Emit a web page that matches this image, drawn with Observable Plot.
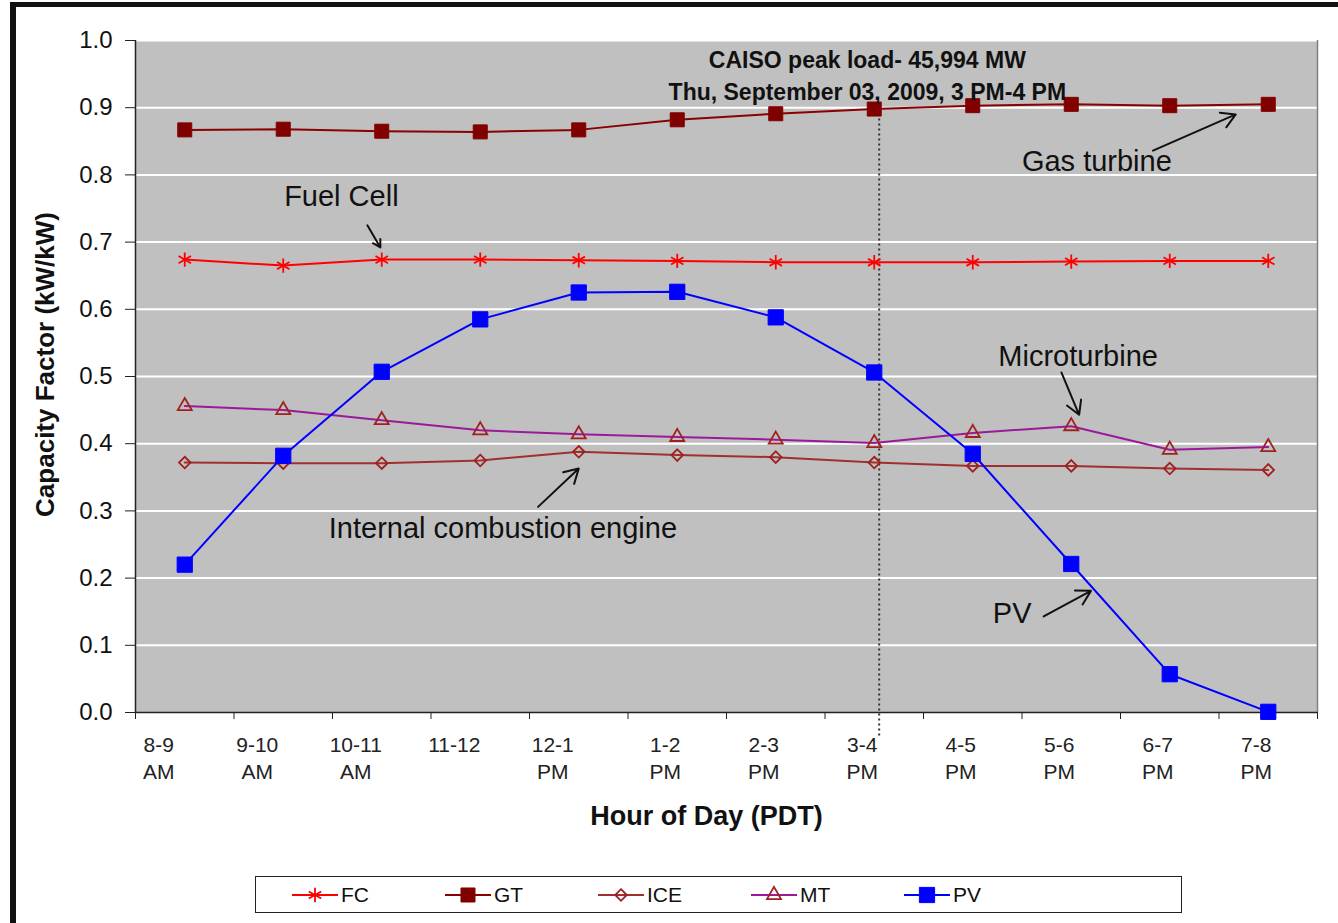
<!DOCTYPE html>
<html><head><meta charset="utf-8">
<script src="https://cdn.jsdelivr.net/npm/d3@7"></script>
<script src="https://cdn.jsdelivr.net/npm/@observablehq/plot@0.6"></script>
<style>
body{margin:0;background:#fff;font-family:"Liberation Sans",Arial,sans-serif;}
#wrap{position:relative;width:1338px;height:923px;overflow:hidden;}
#border{position:absolute;left:10px;top:2px;width:1400px;height:1000px;border-top:5px solid #111;border-left:6px solid #111;pointer-events:none;}
#legend{margin-left:255px;margin-top:16px;width:927px;height:37px;border:1.5px solid #222;box-sizing:border-box;display:flex;align-items:center;padding-left:36px;}
.item{display:flex;align-items:center;width:153px;font-size:21px;color:#111;}
.item svg{margin-right:3px;}
</style></head>
<body><div id="wrap"><div id="chart"></div><div id="legend"></div><div id="border"></div></div>
<script>
const hours = ["8-9\nAM","9-10\nAM","10-11\nAM","11-12","12-1\nPM","1-2\nPM","2-3\nPM","3-4\nPM","4-5\nPM","5-6\nPM","6-7\nPM","7-8\nPM"];
const FC  = [0.674,0.665,0.674,0.674,0.673,0.672,0.670,0.670,0.670,0.671,0.672,0.672];
const GT  = [0.867,0.868,0.865,0.864,0.867,0.882,0.891,0.898,0.903,0.905,0.903,0.905];
const ICE = [0.372,0.371,0.371,0.375,0.388,0.383,0.380,0.372,0.367,0.367,0.363,0.361];
const MT  = [0.456,0.450,0.435,0.420,0.414,0.410,0.406,0.401,0.416,0.426,0.391,0.395];
const PV  = [0.220,0.382,0.507,0.585,0.625,0.626,0.588,0.506,0.385,0.221,0.057,0.001];
const yTicks = [0,0.1,0.2,0.3,0.4,0.5,0.6,0.7,0.8,0.9,1.0];
const seriesNames = ["FC","GT","ICE","MT","PV"];
const seriesValues = {FC, GT, ICE, MT, PV};
const lineColors = {FC:"#ff0000", GT:"#8b0000", ICE:"#a03030", MT:"#9a1a9a", PV:"#0000ff"};
const markColors = {FC:"#ff0000", GT:"#800000", ICE:"#a02020", MT:"#a02020", PV:"#0000ff"};
const symbols = {FC:"asterisk", GT:"square", ICE:"diamond2", MT:"triangle", PV:"square"};
const symbolR = {FC:6.8, GT:7.9, ICE:5.2, MT:5.2, PV:8.6};
const filled = {FC:false, GT:true, ICE:false, MT:false, PV:true};

const peakHour = [7.05];
const peakText = [
  {text:"CAISO peak load- 45,994 MW", x:6.93, y:0.970},
  {text:"Thu, September 03, 2009, 3 PM-4 PM", x:6.93, y:0.923}
];
const notes = [
  {text:"Fuel Cell", x:1.59, y:0.768},
  {text:"Gas turbine", x:9.26, y:0.820},
  {text:"Microturbine", x:9.07, y:0.530},
  {text:"Internal combustion engine", x:3.23, y:0.274},
  {text:"PV", x:8.40, y:0.147}
];
const arrows = [
  {x1:1.854, y1:0.725, x2:1.986, y2:0.692},
  {x1:9.83, y1:0.836, x2:10.67, y2:0.890},
  {x1:8.90, y1:0.506, x2:9.08, y2:0.443},
  {x1:3.587, y1:0.306, x2:4.00, y2:0.363},
  {x1:8.72, y1:0.143, x2:9.20, y2:0.181}
];

const idx = hours.map((_, i) => i);
const bounds = d3.range(hours.length + 1).map(i => i - 0.5);
const xDomain = [-0.5, hours.length - 0.5];

const labelStyle = {tickSize:0, tickPadding:20, fontSize:21, lineHeight:1.3, label:null, fill:"#222"};
const marks = [
  Plot.frame({fill:"#c0c0c0", stroke:"none"}),
  Plot.ruleY(yTicks.slice(1), {stroke:"#ffffff", strokeWidth:2}),
  Plot.ruleX([xDomain[1]], {stroke:"#808080", strokeWidth:1.5}),
  Plot.ruleX(peakHour, {y1:-0.035, y2:0.905, stroke:"#333", strokeWidth:2, strokeDasharray:"2,3", clip:false}),
  Plot.ruleX([xDomain[0]], {stroke:"#222", strokeWidth:1.5}),
  Plot.ruleY([0], {stroke:"#222", strokeWidth:1.5}),
  Plot.axisY({ticks:yTicks, tickFormat:d3.format(".1f"), tickSize:10, tickPadding:13, fontSize:24, label:null, stroke:"#222", fill:"#111"}),
  Plot.axisX({ticks:bounds, tickFormat:() => "", tickSize:7, label:null, stroke:"#222"}),
  Plot.axisX({...labelStyle, ticks:idx.slice(0, 5), tickFormat:i => hours[i], dx:-26}),
  Plot.axisX({...labelStyle, ticks:idx.slice(5), tickFormat:i => hours[i], dx:-12})
];
for (const s of seriesNames) {
  const data = seriesValues[s].map((v, i) => ({i, v}));
  marks.push(Plot.line(data, {x:"i", y:"v", stroke:lineColors[s], strokeWidth:2}));
  marks.push(Plot.dot(data, {x:"i", y:"v", symbol:symbols[s], r:symbolR[s],
    fill: filled[s] ? markColors[s] : "none", stroke: markColors[s], strokeWidth: filled[s] ? 1 : 1.8}));
}
marks.push(
  Plot.text(peakText, {x:"x", y:"y", text:"text", fontSize:23, fontWeight:"bold", fill:"#111"}),
  Plot.text(notes, {x:"x", y:"y", text:"text", fontSize:29, fill:"#111"}),
  Plot.arrow(arrows, {x1:"x1", y1:"y1", x2:"x2", y2:"y2", stroke:"#111", strokeWidth:2, headLength:12}),
  Plot.text(["Capacity Factor (kW/kW)"], {frameAnchor:"left", textAnchor:"middle", rotate:-90, dx:-90, dy:-12, fontSize:26, fontWeight:"bold", fill:"#111", lineAnchor:"middle"}),
  Plot.text(["Hour of Day (PDT)"], {frameAnchor:"bottom", textAnchor:"middle", dx:-20, dy:104, fontSize:27, fontWeight:"bold", fill:"#111", lineAnchor:"middle"})
);

const chart = Plot.plot({
  width:1338, height:860,
  marginLeft:135, marginRight:21, marginTop:40, marginBottom:148,
  style:{fontFamily:"'Liberation Sans', Arial, sans-serif", background:"transparent", overflow:"visible"},
  x:{type:"linear", domain:xDomain},
  y:{domain:[0,1]},
  marks
});
document.getElementById("chart").appendChild(chart);

const legend = document.getElementById("legend");
for (const s of seriesNames) {
  const item = document.createElement("div");
  item.className = "item";
  const svg = d3.create("svg").attr("width", 46).attr("height", 24);
  svg.append("line").attr("x1",0).attr("x2",46).attr("y1",12).attr("y2",12).attr("stroke",lineColors[s]).attr("stroke-width",2);
  const symMap = {asterisk:d3.symbolAsterisk, square:d3.symbolSquare, diamond2:d3.symbolDiamond2, triangle:d3.symbolTriangle};
  svg.append("path").attr("transform","translate(23,12)")
    .attr("d", d3.symbol(symMap[symbols[s]], Math.PI*symbolR[s]*symbolR[s])())
    .attr("fill", filled[s] ? markColors[s] : "none").attr("stroke", markColors[s]).attr("stroke-width", filled[s]?1:1.8);
  item.appendChild(svg.node());
  const t = document.createElement("span"); t.textContent = s; item.appendChild(t);
  legend.appendChild(item);
}
</script></body></html>
